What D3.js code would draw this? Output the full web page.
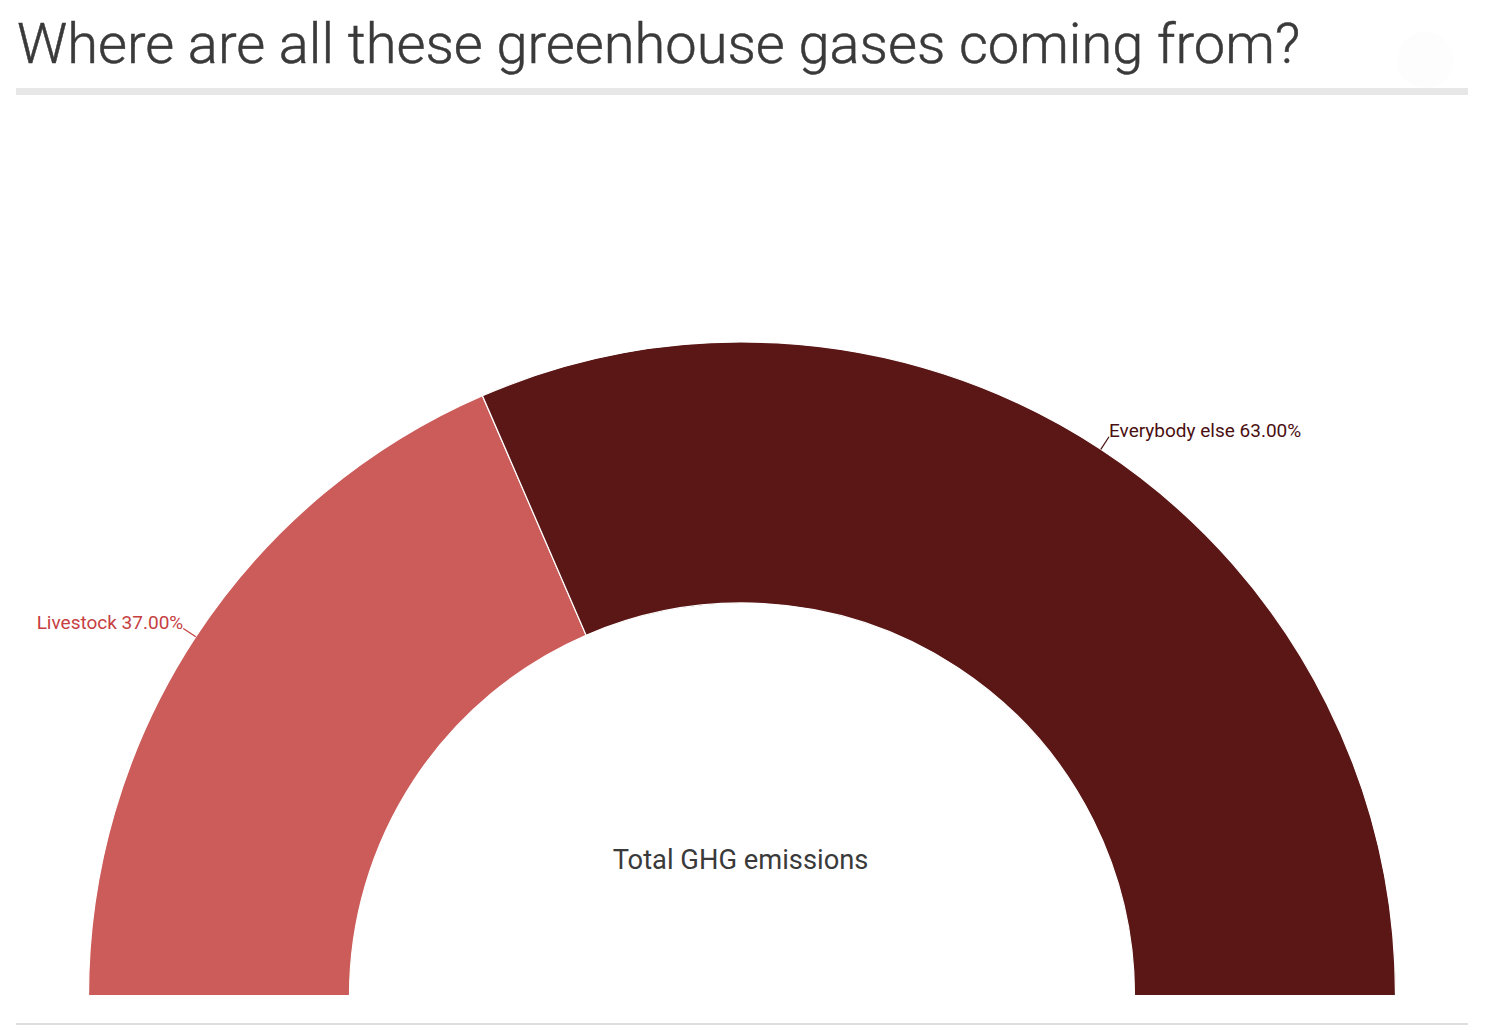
<!DOCTYPE html>
<html>
<head>
<meta charset="utf-8">
<script src="https://d3js.org/d3.v7.min.js"></script>
<style>
html, body { margin: 0; padding: 0; background: #fff; }
text { font-family: Roboto, sans-serif; }
</style>
</head>
<body>
<div id="chart"></div>
<script>
var titleText = "Where are all these greenhouse gases coming from?";
var centerText = "Total GHG emissions";
var sliceNames = ["Livestock", "Everybody else"];
var sliceValues = [37, 63];
var sliceColors = ["#cb5c5a", "#5a1716"];
var labelColors = ["#c6403f", "#4a0f10"];

var width = 1500;
var height = 1035;
var outerR = 653.5;
var innerR = 392.5;

var svg = d3.select("#chart")
	.append("svg")
	.attr("width", width)
	.attr("height", height)
	.style("display", "block");

// header, light weight with a hair of stroke to get the reference's thickness
svg.append("text")
	.attr("x", 17)
	.attr("y", 63)
	.attr("font-size", 56)
	.attr("font-weight", 300)
	.attr("fill", "#3a3a3a")
	.attr("stroke", "#3a3a3a")
	.attr("stroke-width", 0.5)
	.text(titleText);

svg.append("rect")
	.attr("x", 16)
	.attr("y", 88)
	.attr("width", 1452)
	.attr("height", 7)
	.attr("fill", "#e7e7e7");

// very faint badge behind the header rule
svg.append("circle")
	.attr("cx", 1425)
	.attr("cy", 60)
	.attr("r", 28)
	.attr("fill", "#fdfdfd");

// footer rule
svg.append("rect")
	.attr("x", 16)
	.attr("y", 1023)
	.attr("width", 1452)
	.attr("height", 2)
	.attr("fill", "#dedede");

var charts = svg.append("g")
	.attr("transform", `translate(${742}, ${995.5})`);

var pie = d3.pie()
	.sort(null)
	.startAngle(-Math.PI / 2)
	.endAngle(Math.PI / 2);

var arc = d3.arc()
	.innerRadius(innerR)
	.outerRadius(outerR);

var slices = pie(sliceValues);

charts.selectAll("path.slice")
	.data(slices)
	.enter()
	.append("path")
	.attr("class", "slice")
	.attr("d", arc)
	.attr("fill", (d, i) => sliceColors[i])
	.attr("stroke", "#fff")
	.attr("stroke-width", 1.2);

// leader lines run out radially from the middle of each slice
function edgePoint(d, r) {
	var a = (d.startAngle + d.endAngle) / 2;
	return [r * Math.sin(a), -r * Math.cos(a)];
}

charts.selectAll("line.leader")
	.data(slices)
	.enter()
	.append("line")
	.attr("class", "leader")
	.attr("x1", d => edgePoint(d, outerR)[0])
	.attr("y1", d => edgePoint(d, outerR)[1])
	.attr("x2", d => edgePoint(d, outerR + 15)[0])
	.attr("y2", d => edgePoint(d, outerR + 15)[1])
	.attr("stroke", (d, i) => labelColors[i])
	.attr("stroke-width", 1.2);

charts.selectAll("text.label")
	.data(slices)
	.enter()
	.append("text")
	.attr("class", "label")
	.attr("x", d => edgePoint(d, outerR + 15)[0])
	.attr("y", d => edgePoint(d, outerR + 15)[1])
	.attr("dy", d => edgePoint(d, 1)[0] < 0 ? 1 : 0)
	.attr("text-anchor", d => edgePoint(d, 1)[0] < 0 ? "end" : "start")
	.attr("font-size", 19)
	.attr("fill", (d, i) => labelColors[i])
	.text((d, i) => `${sliceNames[i]} ${d3.format(".2f")(sliceValues[i])}%`);

charts.append("text")
	.attr("x", -1.5)
	.attr("y", -127)
	.attr("text-anchor", "middle")
	.attr("font-size", 27.3)
	.attr("fill", "#3a3a3a")
	.text(centerText);
</script>
</body>
</html>
